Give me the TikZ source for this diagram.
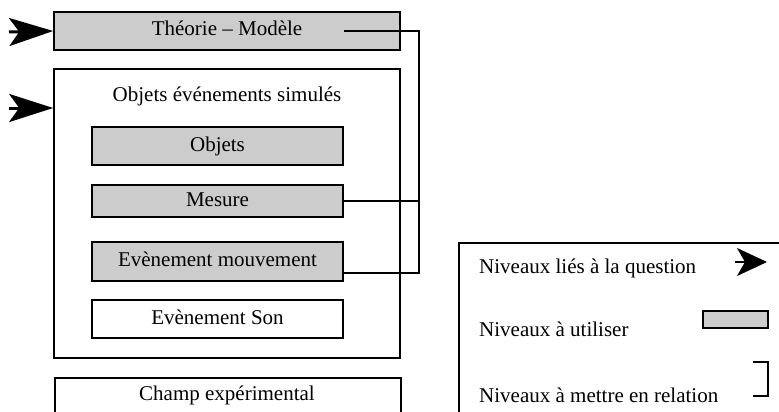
\documentclass[tikz,border=0pt]{standalone}
\usepackage{fontspec}
\setmainfont{Liberation Serif}
\usepackage{xcolor}
\usetikzlibrary{arrows.meta,calc,positioning}
\definecolor{levelgray}{RGB}{204,204,204}

\begin{document}
\begin{tikzpicture}[x=1pt, y=-1pt,
  every node/.style={font=\fontsize{21}{25}\selectfont, inner sep=0pt},
  frame/.style={draw, line width=1.6pt},
  level/.style={frame, text height=14pt, text depth=4pt},
  used/.style={level, fill=levelgray},
  link/.style={line width=1.5pt},
  question/.style={line width=3pt, -{Stealth[length=44pt, width=28pt, inset=10pt]}}]
  \useasboundingbox (0,0) rectangle (779,412);
  \clip (0,0) rectangle (779,412);
  % left column
  \node[used, minimum width=346, minimum height=38] (theorie) at (227,31) {Théorie – Modèle};
  \node[frame, minimum width=346, minimum height=289] (simul) at (227,213.5) {};
  \node[anchor=base] (simtitle) at (227,101) {Objets événements simulés};
  \node[used, minimum width=251, minimum height=38] (objets) at (217.5,146) {Objets};
  \node[used, minimum width=251, minimum height=32] (mesure) at (217.5,201) {Mesure};
  \node[used, minimum width=251, minimum height=39] (mouv) at (217.5,261.5) {Evènement mouvement};
  \node[level, minimum width=251, minimum height=38] (son) at (217.5,319) {Evènement Son};
  \node[frame, anchor=north west, minimum width=346, minimum height=60] (champ) at (54,377) {};
  \node[anchor=base] (champtxt) at (227,400) {Champ expérimental};
  % levels linked to the question
  \coordinate (q1) at (9,32);
  \coordinate (q2) at (9,108);
  \draw[question] (q1) -- (theorie.west);
  \draw[question] (q2) -- (q2 -| simul.west);
  % levels to relate
  \coordinate (t1) at (theorie.center -| objets.east);
  \coordinate (m1) at ($(mouv.south east)+(0,-9)$);
  \draw[link] (t1) -| (419,0 |- m1) -- (m1);
  \draw[link] (mesure.east) -- (mesure.east -| 419,0);
  % legend
  \node[frame, anchor=north west, minimum width=340, minimum height=200] (legend) at (458,242) {};
  \node[anchor=base west] (keyq) at (479,273) {Niveaux liés à la question};
  \node[anchor=base west] (keyu) at (479,336) {Niveaux à utiliser};
  \node[anchor=base west] (keyr) at (479,402) {Niveaux à mettre en relation};
  \coordinate (ka) at (735,262);
  \coordinate (kb) at (767,262);
  \draw[line width=1.2pt, -{Stealth[length=30pt, width=28pt, inset=8pt]}] (ka) -- (kb);
  \node[frame, fill=levelgray, line width=1.4pt, minimum width=65, minimum height=17] (keybox) at (735.5,319.5) {};
  \coordinate (kr1) at (753,362);
  \coordinate (kr2) at (753,396);
  \draw[link] (kr1) -| ($(kr2)+(15,0)$) -- (kr2);
\end{tikzpicture}
\end{document}
